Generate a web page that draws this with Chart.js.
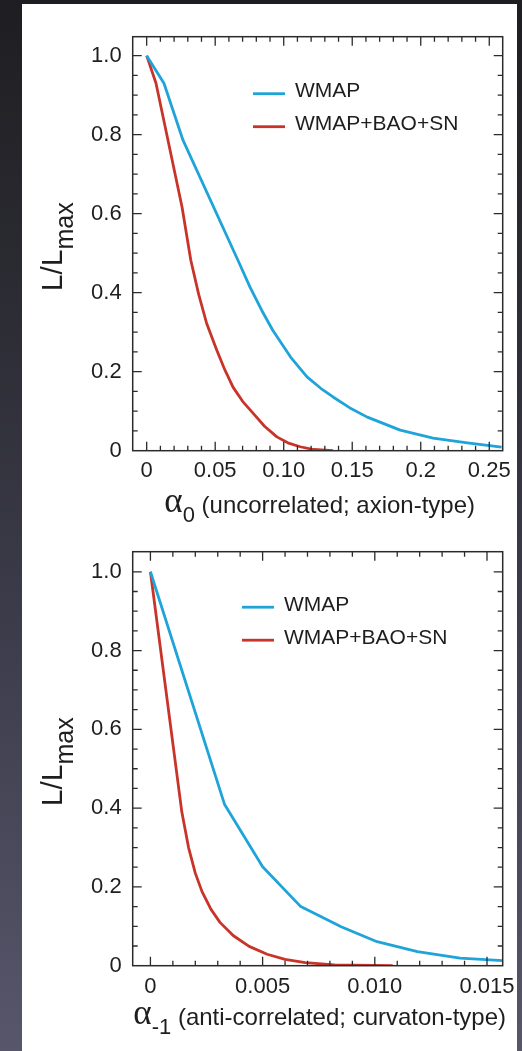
<!DOCTYPE html>
<html>
<head>
<meta charset="utf-8">
<script src="https://cdn.jsdelivr.net/npm/chart.js@4.4.0/dist/chart.umd.min.js"></script>
<style>
  html, body { margin: 0; padding: 0; }
  body {
    width: 522px; height: 1051px; position: relative; overflow: hidden;
    background: linear-gradient(to bottom, #1e1e22 0%, #2a2a31 25%, #3d3c4b 60%, #57566b 100%);
  }
  #sheet { position: absolute; left: 22px; top: 4px; width: 495px; height: 1047px; background: #fff; }
  canvas { position: absolute; left: 0; }
  #axion { top: 0; }
  #curvaton { top: 530px; }
</style>
</head>
<body>
<div id="sheet"></div>
<canvas id="axion" width="522" height="530"></canvas>
<canvas id="curvaton" width="522" height="521"></canvas>
<script>
const seriesNames = ['WMAP', 'WMAP+BAO+SN'];
const seriesColors = ['#1ea4d9', '#c9342a'];
const yTickLabels = ['0', '0.2', '0.4', '0.6', '0.8', '1.0'];

// alpha_0, uncorrelated (axion-type)
const axionTickLabels = ['0', '0.05', '0.10', '0.15', '0.2', '0.25'];
const axionWmapX = [0, 0.0126, 0.0265, 0.0666, 0.0754, 0.084, 0.092, 0.105, 0.117, 0.127, 0.136, 0.148, 0.161, 0.185, 0.209, 0.234, 0.259];
const axionWmapY = [1.0, 0.93, 0.786, 0.482, 0.414, 0.355, 0.305, 0.237, 0.187, 0.158, 0.136, 0.109, 0.085, 0.052, 0.032, 0.020, 0.009];
const axionJointX = [0, 0.0068, 0.0258, 0.0322, 0.038, 0.0438, 0.0511, 0.057, 0.063, 0.070, 0.0776, 0.086, 0.095, 0.103, 0.112, 0.122, 0.136];
const axionJointY = [1.0, 0.93, 0.617, 0.482, 0.395, 0.322, 0.255, 0.205, 0.161, 0.125, 0.095, 0.062, 0.035, 0.020, 0.010, 0.003, 0.0];

// alpha_-1, anti-correlated (curvaton-type)
const curvTickLabels = ['0', '0.005', '0.010', '0.015'];
const curvWmapX = [0, 0.0033, 0.005, 0.0067, 0.0085, 0.0101, 0.0119, 0.0138, 0.0157];
const curvWmapY = [1.0, 0.41, 0.251, 0.150, 0.099, 0.061, 0.0355, 0.019, 0.0127];
const curvJointX = [0, 0.0014, 0.0017, 0.002, 0.0023, 0.0027, 0.0031, 0.0037, 0.0044, 0.0052, 0.006, 0.0069, 0.0082, 0.0108];
const curvJointY = [1.0, 0.39, 0.3, 0.235, 0.188, 0.143, 0.11, 0.076, 0.049, 0.029, 0.016, 0.008, 0.002, 0.0];

const SANS = '"Liberation Sans", Arial, Helvetica, sans-serif';
const INK = '#1e1e1e';

Chart.defaults.font.family = SANS;
Chart.defaults.color = INK;

const zip = (xs, ys) => xs.map((x, i) => ({ x: x, y: ys[i] }));

// frame, inward ticks on all four sides, legend and axis titles
const plotDecor = {
  id: 'plotDecor',
  afterDatasetsDraw(chart, args, opts) {
    const ctx = chart.ctx;
    const a = chart.chartArea;
    const xs = chart.scales.x, ys = chart.scales.y;
    ctx.save();
    ctx.strokeStyle = '#2b2b2b';
    ctx.lineWidth = 1.3;

    const marks = (scale, minor, major, horiz) => {
      const first = Math.ceil(scale.min / minor - 1e-6);
      const last = Math.floor(scale.max / minor + 1e-6);
      for (let i = first; i <= last; i++) {
        const v = i * minor;
        const r = v / major;
        const len = Math.abs(r - Math.round(r)) < 1e-6 ? 9 : 5;
        const p = scale.getPixelForValue(v);
        ctx.beginPath();
        if (horiz) {
          if (p < a.left + 1 || p > a.right - 1) continue;
          ctx.moveTo(p, a.bottom); ctx.lineTo(p, a.bottom - len);
          ctx.moveTo(p, a.top); ctx.lineTo(p, a.top + len);
        } else {
          if (p < a.top + 1 || p > a.bottom - 1) continue;
          ctx.moveTo(a.left, p); ctx.lineTo(a.left + len, p);
          ctx.moveTo(a.right, p); ctx.lineTo(a.right - len, p);
        }
        ctx.stroke();
      }
    };
    marks(xs, opts.xMinor, opts.xMajor, true);
    marks(ys, 0.05, 0.2, false);

    ctx.lineWidth = 1.5;
    ctx.strokeRect(a.left, a.top, a.right - a.left, a.bottom - a.top);

    // legend
    ctx.font = '21px ' + SANS;
    ctx.textBaseline = 'middle';
    ctx.textAlign = 'left';
    chart.data.datasets.forEach((ds, i) => {
      const ly = a.top + opts.legendY + i * 33;
      const lx = a.left + opts.legendX;
      ctx.strokeStyle = ds.borderColor;
      ctx.lineWidth = 2.8;
      ctx.beginPath();
      ctx.moveTo(lx, ly);
      ctx.lineTo(lx + 32, ly);
      ctx.stroke();
      ctx.fillStyle = INK;
      ctx.fillText(ds.label, lx + 42, ly - 2);
    });

    // y title: L/L_max
    ctx.textBaseline = 'alphabetic';
    ctx.fillStyle = INK;
    ctx.save();
    ctx.translate(a.left - 71, (a.top + a.bottom) / 2 + 3);
    ctx.rotate(-Math.PI / 2);
    ctx.font = '30px ' + SANS;
    const wMain = ctx.measureText('L/L').width;
    ctx.font = '25px ' + SANS;
    const wSub = ctx.measureText('max').width;
    const start = -(wMain + wSub) / 2;
    ctx.font = '30px ' + SANS;
    ctx.fillText('L/L', start, 0);
    ctx.font = '25px ' + SANS;
    ctx.fillText('max', start + wMain, 11);
    ctx.restore();

    // x title: alpha with subscript, then description
    const parts = [
      { text: '\u03b1', font: '35px "Liberation Serif", "Times New Roman", serif', dy: -1 },
      { text: opts.sub, font: '22px ' + SANS, dy: 9 },
      { text: ' ' + opts.desc, font: '24px ' + SANS, dy: 0 }
    ];
    let total = 0;
    parts.forEach(p => { ctx.font = p.font; p.w = ctx.measureText(p.text).width; total += p.w; });
    let px = (a.left + a.right) / 2 + 2 - total / 2;
    const base = a.bottom + opts.titleGap;
    parts.forEach(p => {
      ctx.font = p.font;
      ctx.fillText(p.text, px, base + p.dy);
      px += p.w;
    });
    ctx.restore();
  }
};

function buildChart(id, opt) {
  return new Chart(document.getElementById(id), {
    type: 'line',
    data: {
      datasets: [
        { label: seriesNames[0], data: zip(opt.wmapX, opt.wmapY), borderColor: seriesColors[0] },
        { label: seriesNames[1], data: zip(opt.jointX, opt.jointY), borderColor: seriesColors[1] }
      ]
    },
    options: {
      responsive: false,
      animation: false,
      elements: {
        line: { borderWidth: 2.8, tension: 0, fill: false, borderJoinStyle: 'round' },
        point: { radius: 0 }
      },
      layout: { padding: { left: 0, top: opt.top, right: 19.3, bottom: 0 } },
      plugins: {
        legend: { display: false },
        tooltip: { enabled: false },
        plotDecor: opt.decor
      },
      scales: {
        x: {
          type: 'linear',
          min: opt.xMin,
          max: opt.xMax,
          grid: { display: false, drawTicks: false },
          border: { display: false },
          ticks: {
            stepSize: opt.xStep,
            includeBounds: false,
            maxRotation: 0,
            autoSkip: false,
            padding: opt.xPad,
            font: { size: 22 },
            callback: (v, i) => opt.xLabels[i]
          },
          afterFit: s => { s.height = opt.xHeight; s.paddingLeft = 0; s.paddingRight = 0; }
        },
        y: {
          min: 0,
          max: opt.yMax,
          grid: { display: false, drawTicks: false },
          border: { display: false },
          ticks: {
            stepSize: 0.2,
            includeBounds: false,
            padding: 11,
            font: { size: 22 },
            callback: (v, i) => yTickLabels[i]
          },
          afterFit: s => { s.width = 132.7; s.paddingTop = 0; s.paddingBottom = 0; }
        }
      }
    },
    plugins: [plotDecor]
  });
}

buildChart('axion', {
  wmapX: axionWmapX, wmapY: axionWmapY, jointX: axionJointX, jointY: axionJointY,
  xMin: -0.0102, xMax: 0.2598, xStep: 0.05, xLabels: axionTickLabels,
  yMax: 1.048, top: 36.7, xHeight: 79.3, xPad: 7,
  decor: { xMinor: 0.01, xMajor: 0.05, legendX: 120.3, legendY: 57, titleGap: 62.5,
           sub: '0', desc: '(uncorrelated; axion-type)' }
});

buildChart('curvaton', {
  wmapX: curvWmapX, wmapY: curvWmapY, jointX: curvJointX, jointY: curvJointY,
  xMin: -0.00079, xMax: 0.0157, xStep: 0.005, xLabels: curvTickLabels,
  yMax: 1.051, top: 21.7, xHeight: 85.3, xPad: 8.5,
  decor: { xMinor: 0.001, xMajor: 0.005, legendX: 109.3, legendY: 55.5, titleGap: 59.5,
           sub: '-1', desc: '(anti-correlated; curvaton-type)' }
});
</script>
</body>
</html>
